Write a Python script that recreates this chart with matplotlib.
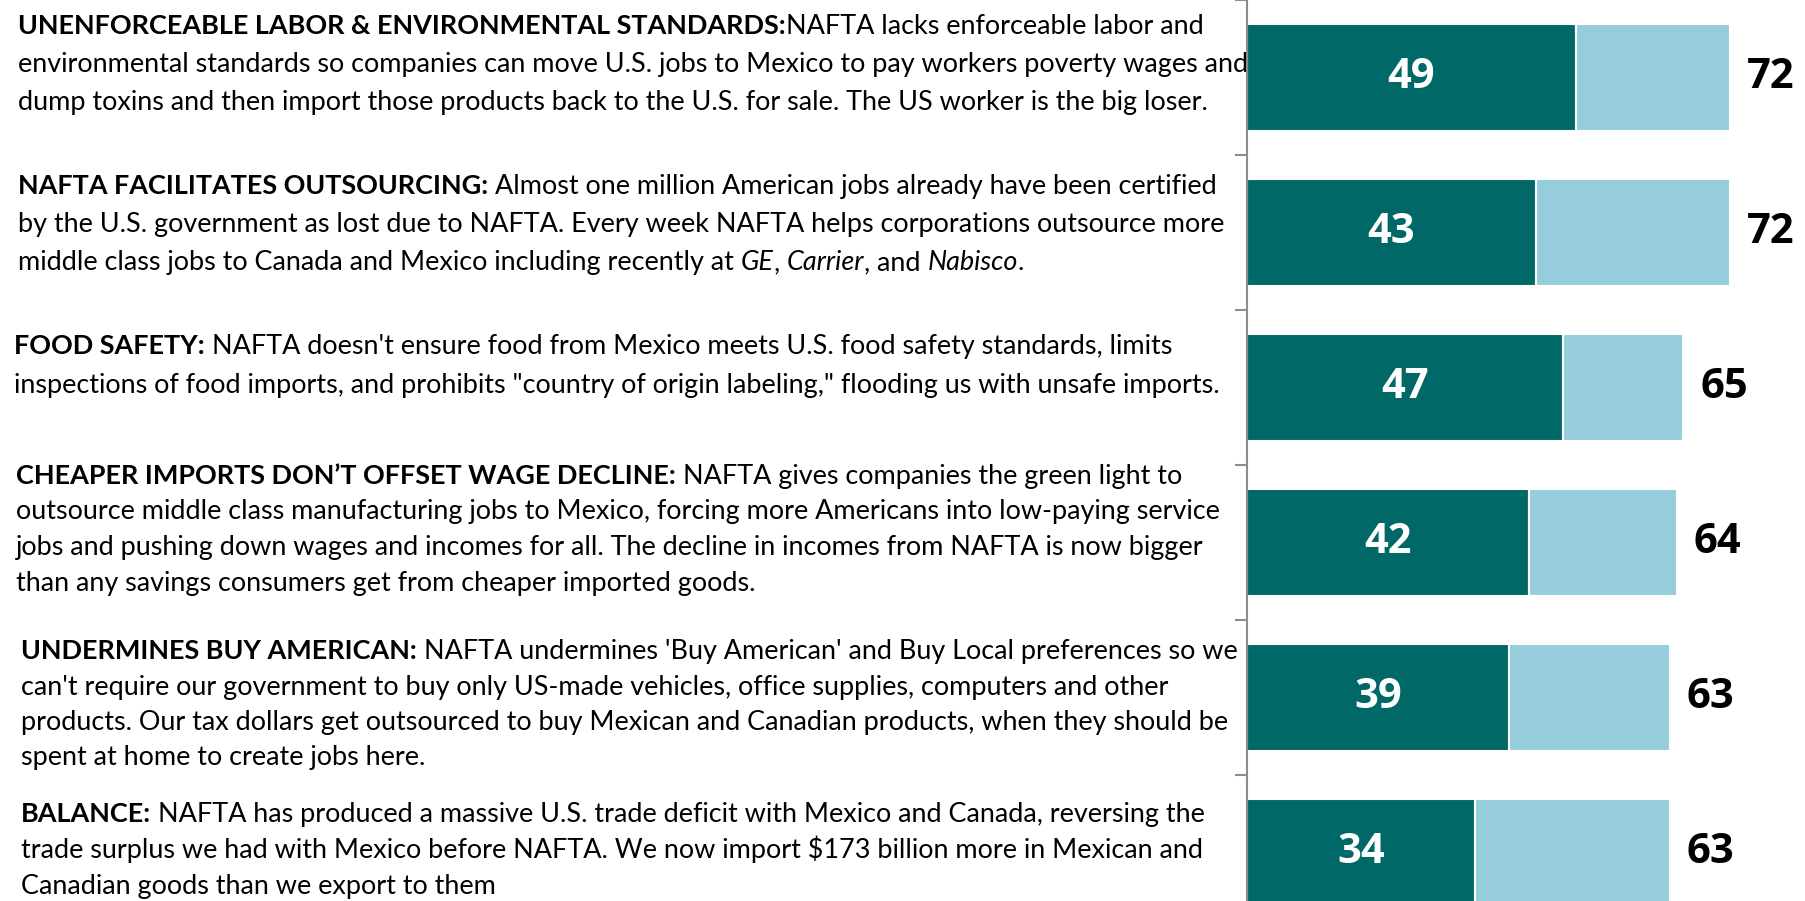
import matplotlib
matplotlib.use("Agg")
import matplotlib.pyplot as plt
from matplotlib import font_manager
import numpy as np

# survey values: share "very convincing" (dark) and total convincing
dark_vals = [49, 43, 47, 42, 39, 34]
total_vals = [72, 72, 65, 64, 63, 63]

# argument text, one list of lines per bar; each line is a list of (text, style) runs
# style: b = bold, r = regular, i = italic
blocks = [
    [[("UNENFORCEABLE LABOR & ENVIRONMENTAL STANDARDS:", "b"), ("NAFTA lacks enforceable labor and", "r")],
     [("environmental standards so companies can move U.S. jobs to Mexico to pay workers poverty wages and", "r")],
     [("dump toxins and then import those products back to the U.S. for sale. The US worker is the big loser.", "r")]],
    [[("NAFTA FACILITATES OUTSOURCING:", "b"), (" Almost one million American jobs already have been certified", "r")],
     [("by the U.S. government as lost due to NAFTA. Every week NAFTA helps corporations outsource more", "r")],
     [("middle class jobs to Canada and Mexico including recently at ", "r"), ("GE", "i"), (", ", "r"),
      ("Carrier", "i"), (", and ", "r"), ("Nabisco", "i"), (".", "r")]],
    [[("FOOD SAFETY:", "b"), (" NAFTA doesn't ensure food from Mexico meets U.S. food safety standards, limits", "r")],
     [("inspections of food imports, and prohibits \"country of origin labeling,\" flooding us with unsafe imports.", "r")]],
    [[("CHEAPER IMPORTS DON\u2019T OFFSET WAGE DECLINE:", "b"), (" NAFTA gives companies the green light to", "r")],
     [("outsource middle class manufacturing jobs to Mexico, forcing more Americans into low-paying service", "r")],
     [("jobs and pushing down wages and incomes for all. The decline in incomes from NAFTA is now bigger", "r")],
     [("than any savings consumers get from cheaper imported goods.", "r")]],
    [[("UNDERMINES BUY AMERICAN:", "b"), (" NAFTA undermines 'Buy American' and Buy Local preferences so we", "r")],
     [("can't require our government to buy only US-made vehicles, office supplies, computers and other", "r")],
     [("products. Our tax dollars get outsourced to buy Mexican and Canadian products, when they should be", "r")],
     [("spent at home to create jobs here.", "r")]],
    [[("BALANCE:", "b"), (" NAFTA has produced a massive U.S. trade deficit with Mexico and Canada, reversing the", "r")],
     [("trade surplus we had with Mexico before NAFTA. We now import \\$173 billion more in Mexican and", "r")],
     [("Canadian goods than we export to them", "r")]],
]

# text layout in figure pixels (from top-left)
text_x = [18, 18, 14, 16, 21, 21]
first_base = [34, 194, 354, 484, 659, 822]
line_gap = [38, 38, 39, 35.5, 35.5, 36]

dark_color = "#006866"
light_color = "#96CDDC"
axis_color = "#8C8C8C"

W, H = 1805, 901
fig = plt.figure(figsize=(W / 100, H / 100), dpi=100)
fig.patch.set_facecolor("white")

# full-figure axes for the text, in pixel coordinates
tax = fig.add_axes([0, 0, 1, 1], zorder=0)
tax.set_xlim(0, W)
tax.set_ylim(H, 0)
tax.axis("off")

renderer = fig.canvas.get_renderer()
text_font = "Lato"


def style_kw(st, fs):
    kw = dict(fontsize=fs, family=[text_font, "DejaVu Sans"])
    if st == "b":
        kw["fontweight"] = "bold"
    if st == "i":
        kw["fontstyle"] = "italic"
    return kw


def adv(s, **kw):
    # advance width of s, bracketed so spaces are counted
    t = tax.text(0, 0, "|" + s + "|", **kw)
    w1 = t.get_window_extent(renderer).width
    t.set_text("||")
    w0 = t.get_window_extent(renderer).width
    t.remove()
    return w1 - w0


# fit the font size so the long line of the first block spans like the original
ref_line = blocks[0][1][0][0]
fs = 20 * 1232 / adv(ref_line, **style_kw("r", 20))

for bi, block in enumerate(blocks):
    for li, runs in enumerate(block):
        x = text_x[bi]
        y = first_base[bi] + li * line_gap[bi]
        for s, st in runs:
            kw = style_kw(st, fs)
            core = s.lstrip(" ")
            pad = adv(s[:len(s) - len(core)], **kw) if core != s else 0
            tax.text(x + pad, y, core, ha="left", va="baseline", color="black", **kw)
            x += adv(s, **kw)

# bar chart axes
x0 = 1247
ax = fig.add_axes([x0 / W, 0, (W - x0) / W, 1], zorder=1)
ax.patch.set_alpha(0)

y = np.arange(len(dark_vals))
dark = np.array(dark_vals)
total = np.array(total_vals)

ax.barh(y, dark, height=0.69, color=dark_color, edgecolor="white", linewidth=1.5)
ax.barh(y, total - dark, left=dark, height=0.69, color=light_color, edgecolor="white", linewidth=1.5)

# condensed bold digits if available, otherwise Open Sans a bit smaller
installed = {f.name for f in font_manager.fontManager.ttflist}
if "Liberation Sans Narrow" in installed:
    num_font, num_size = ["Liberation Sans Narrow", "DejaVu Sans"], 34
else:
    num_font, num_size = ["Open Sans", "DejaVu Sans"], 30

for yi, d, t in zip(y, dark, total):
    ax.text(d / 2, yi, str(d), ha="center", va="center", color="white",
            fontsize=num_size, fontweight="bold", family=num_font)
    ax.text(t + 2.5, yi, str(t), ha="left", va="center", color="black",
            fontsize=num_size, fontweight="bold", family=num_font)

ax.set_yticks(np.arange(-0.5, 5.5, 1.0))
ax.set_yticklabels([])
ax.set_xticks([])
ax.set_xlim(0, (W - x0) / 6.715)
ax.set_ylim(5.313, -0.5)
for side in ["top", "right", "bottom"]:
    ax.spines[side].set_visible(False)
ax.spines["left"].set_color(axis_color)
ax.spines["left"].set_linewidth(1.5)
ax.tick_params(axis="y", direction="out", length=9, width=1.5, color=axis_color)

fig.savefig("out.png", dpi=100, facecolor="white")
